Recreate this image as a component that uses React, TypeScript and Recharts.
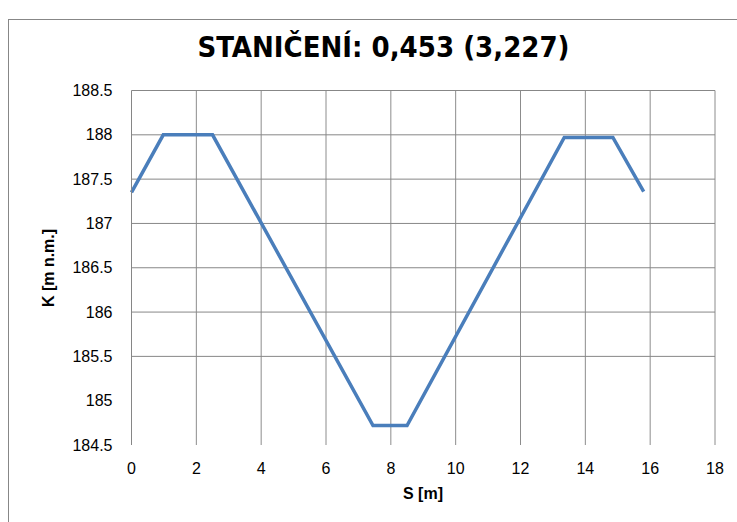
import React from 'react';
import { LineChart, Line, XAxis, YAxis, CartesianGrid } from 'recharts';

const stationS = [0, 0.98, 2.5, 7.45, 8.5, 13.35, 14.85, 15.8];
const elevationK = [187.35, 188.0, 188.0, 184.72, 184.72, 187.97, 187.97, 187.36];
const xTicks = [0, 2, 4, 6, 8, 10, 12, 14, 16, 18];
const yTicks = [184.5, 185, 185.5, 186, 186.5, 187, 187.5, 188, 188.5];
const yGridValues = [185.5, 186, 186.5, 187, 187.5, 188, 188.5];
const xGridValues = [2, 4, 6, 8, 10, 12, 14, 16, 18];
const titleText = 'STANIČENÍ: 0,453 (3,227)';
const xTitle = 'S [m]';
const yTitle = 'K [m n.m.]';

const data = stationS.map((s, i) => ({ s, k: elevationK[i] }));

const tickFont = { fontFamily: "'Liberation Sans', Arial, sans-serif", fontSize: 16, fill: '#000' };

export default function App() {
  return (
    <div style={{ position: 'absolute', left: 0, top: 0, width: 737, height: 522, overflow: 'hidden', background: '#fff' }}>
      <div style={{ position: 'absolute', left: 8, top: 19, width: 800, height: 600, border: '1px solid #878787' }} />
      <div style={{ position: 'absolute', left: 0, top: 0 }}>
        <LineChart width={737} height={522} data={data} margin={{ top: 90.5, right: 22, bottom: 47, left: 0.5 }}>
          <CartesianGrid horizontal={false} vertical={true} verticalValues={xGridValues} stroke="#8c8c8c" strokeWidth={1} />
          <CartesianGrid horizontal={true} vertical={false} horizontalValues={yGridValues} stroke="#878787" strokeWidth={1} />
          <XAxis
            dataKey="s"
            type="number"
            domain={[0, 18]}
            ticks={xTicks}
            axisLine={false}
            tickLine={false}
            tickSize={0}
            tickMargin={18}
            height={30}
            tick={tickFont}
            interval={0}
          />
          <YAxis
            type="number"
            domain={[184.5, 188.5]}
            ticks={yTicks}
            width={131}
            axisLine={{ stroke: '#868686', strokeWidth: 1 }}
            tickLine={false}
            tickSize={0}
            tickMargin={19}
            tick={tickFont}
            interval={0}
          />
          <Line
            type="linear"
            dataKey="k"
            stroke="#4a7ebb"
            strokeWidth={3.5}
            dot={false}
            isAnimationActive={false}
          />
        </LineChart>
      </div>
      <svg width={737} height={522} style={{ position: 'absolute', left: 0, top: 0, pointerEvents: 'none' }}>
        <text x={383.5} y={57} textAnchor="middle" fontFamily="'DejaVu Sans Condensed', 'DejaVu Sans', sans-serif" fontStretch="condensed" fontWeight="bold" fontSize={29} fill="#000">
          {titleText}
        </text>
        <text x={423} y={499} textAnchor="middle" fontFamily="'Liberation Sans', Arial, sans-serif" fontWeight="bold" fontSize={16} fill="#000">
          {xTitle}
        </text>
        <text x={0} y={0} transform="translate(54, 268) rotate(-90)" textAnchor="middle" fontFamily="'Liberation Sans', Arial, sans-serif" fontWeight="bold" fontSize={16} fill="#000">
          {yTitle}
        </text>
      </svg>
    </div>
  );
}
